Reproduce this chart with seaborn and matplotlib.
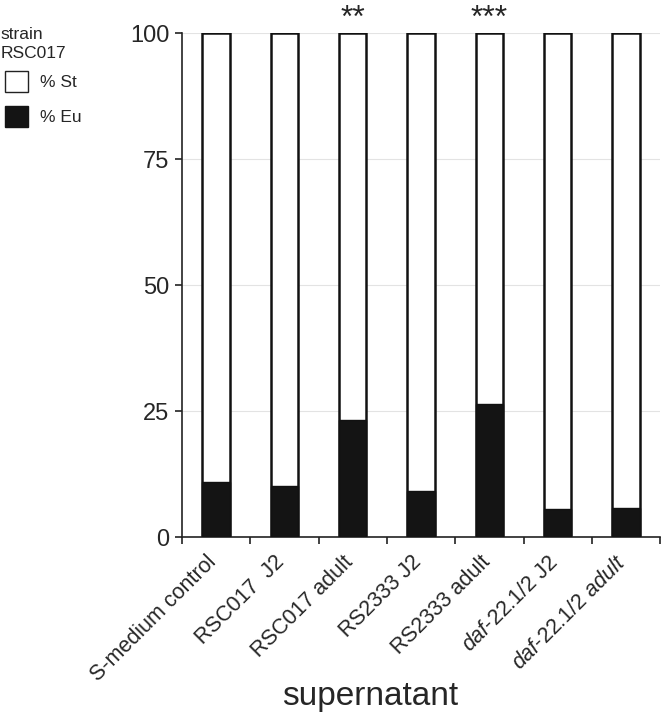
import pandas as pd
import numpy as np
import matplotlib
matplotlib.use("Agg")
import matplotlib.pyplot as plt
import matplotlib.patches as mpatches
from matplotlib.transforms import ScaledTranslation
import seaborn as sns

# data
groups = ["S-medium control", "RSC017  J2", "RSC017 adult", "RS2333 J2",
          "RS2333 adult", "daf-22.1/2 J2", "daf-22.1/2 adult"]
tick_labels = ["S-medium control", "RSC017  J2", "RSC017 adult", "RS2333 J2",
               "RS2333 adult", r"$\mathit{daf}$-$\mathit{22.1/2}$ J2",
               r"$\mathit{daf}$-$\mathit{22.1/2}$ $\mathit{adult}$"]
pct_eu = [10.9, 10.2, 23.3, 9.1, 26.5, 5.5, 5.8]
pct_total = [100, 100, 100, 100, 100, 100, 100]
stars = ["", "", "**", "", "***", "", ""]

df = pd.DataFrame({"group": groups, "eu": pct_eu, "total": pct_total})

sns.set_style("white")
plt.rcParams["font.family"] = ["Liberation Sans", "DejaVu Sans"]
plt.rcParams["mathtext.fontset"] = "custom"
plt.rcParams["mathtext.it"] = "Liberation Sans:italic"
plt.rcParams["mathtext.rm"] = "Liberation Sans"

fig = plt.figure(figsize=(6.61, 7.19), dpi=100)
ax = fig.add_axes([0.275, 0.253, 0.724, 0.701])

sns.barplot(data=df, x="group", y="total", color="white", edgecolor="#111111",
            linewidth=1.8, width=0.4, ax=ax, zorder=2)
sns.barplot(data=df, x="group", y="eu", color="#141414", edgecolor="#111111",
            linewidth=1.0, width=0.4, ax=ax, zorder=3)

ax.set_ylim(0, 100)
ax.set_xlim(-0.5, len(groups) - 0.5)
ax.set_yticks([0, 25, 50, 75, 100])
ax.yaxis.grid(True, color="#e3e3e3", linewidth=0.8, zorder=0)
ax.set_axisbelow(True)

ax.set_xticks(np.arange(len(groups)))
ax.set_xticklabels(tick_labels, rotation=45, ha="right", rotation_mode="anchor",
                   fontsize=15.5)
ax.tick_params(axis="x", which="major", length=0, pad=9)
# nudge the slanted labels so they end right under each bar
shift = ScaledTranslation(-0.1, -0.02, fig.dpi_scale_trans)
for lbl in ax.get_xticklabels():
    lbl.set_transform(lbl.get_transform() + shift)
ax.set_xticks(np.arange(-0.5, len(groups)), minor=True)
ax.tick_params(axis="x", which="minor", length=5, width=1.2, color="#222222",
               direction="out", bottom=True)
ax.tick_params(axis="y", length=5, width=1.2, color="#222222", labelsize=17,
               left=True, direction="out", pad=4)

for s in ["top", "right"]:
    ax.spines[s].set_visible(False)
for s in ["left", "bottom"]:
    ax.spines[s].set_color("#222222")
    ax.spines[s].set_linewidth(1.2)

for i, st in enumerate(stars):
    if st:
        ax.text(i, 101.3, st, ha="center", va="baseline", fontsize=23,
                clip_on=False)

ax.set_xlabel("supernatant", fontsize=24, labelpad=14)
ax.xaxis.set_label_coords(0.393, -0.285)
ax.set_ylabel("")

# legend title sits a bit left of the handles, as in the original
fig.text(0.001, 0.962, "strain\nRSC017", fontsize=12.5, va="top", ha="left",
         linespacing=1.3)
handles = [mpatches.Patch(facecolor="white", edgecolor="#222222", label="% St"),
           mpatches.Patch(facecolor="#141414", edgecolor="#141414", label="% Eu")]
leg = fig.legend(handles=handles, loc="upper left",
                 bbox_to_anchor=(-0.0154, 0.9226), frameon=False, fontsize=12.5,
                 handlelength=1.3, handleheight=1.47,
                 labelspacing=0.8, handletextpad=0.7)

fig.savefig("out.png", dpi=100)
